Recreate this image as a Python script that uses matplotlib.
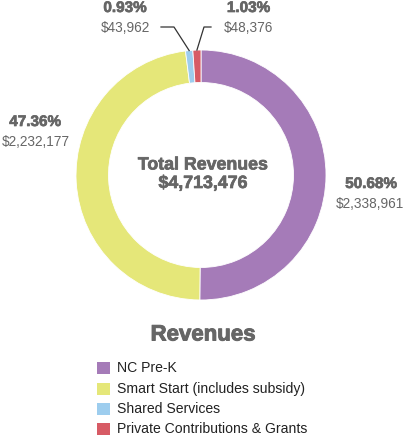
import numpy as np
import matplotlib
matplotlib.use("Agg")
import matplotlib.pyplot as plt
import matplotlib.patheffects as pe

categories = ["NC Pre-K", "Smart Start (includes subsidy)", "Shared Services", "Private Contributions & Grants"]
values = [2338961, 2232177, 43962, 48376]
pct_labels = ["50.68%", "47.36%", "0.93%", "1.03%"]
value_labels = ["$2,338,961", "$2,232,177", "$43,962", "$48,376"]
colors = ["#A57BB8", "#E5E779", "#9DCDEE", "#D75B65"]
center_title = "Total Revenues"
center_value = "$4,713,476"
chart_title = "Revenues"

plt.rcParams['font.family'] = ['Liberation Sans', 'DejaVu Sans']
W, H = 406, 438
fig = plt.figure(figsize=(W / 100, H / 100), dpi=100)
fig.patch.set_facecolor("white")

def fx(x):
    return x / W

def fy(y):
    return 1 - y / H

grey = "#666666"
heavy = [pe.withStroke(linewidth=0.5, foreground=grey)]

cx, cy, R = 201, 175, 125
ax = fig.add_axes([fx(cx - R), fy(cy + R), 2 * R / W, 2 * R / H])
wedges, _ = ax.pie(values, colors=colors, startangle=90, counterclock=False,
                   radius=1, wedgeprops=dict(width=0.26, edgecolor="white", linewidth=0.6))
ax.set_xlim(-1, 1)
ax.set_ylim(-1, 1)
ax.axis("off")

fig.text(fx(203), fy(165), center_title, ha="center", va="center", fontsize=12.8,
         fontweight="bold", color=grey, path_effects=heavy)
fig.text(fx(203), fy(183.5), center_value, ha="center", va="center", fontsize=12.8,
         fontweight="bold", color=grey, path_effects=heavy)

# label positions (pixels)
pct_pos = [(371, 184), (35, 122), (125, 8), (248.5, 8)]
val_pos = [(370, 204), (36, 142), (125, 27.5), (248, 27.5)]
for i in range(4):
    fig.text(fx(pct_pos[i][0]), fy(pct_pos[i][1]), pct_labels[i], ha="center", va="center",
             fontsize=11, fontweight="bold", color=grey, path_effects=heavy)
    fig.text(fx(val_pos[i][0]), fy(val_pos[i][1]), value_labels[i], ha="center", va="center",
             fontsize=9.8, color=grey)

# leader lines for small slices
total = sum(values)
cum = np.cumsum([0] + values)
for i, (elbow, end) in zip([2, 3], [((174, 27), (161, 27)), ((204, 27), (211, 27))]):
    mid = 90 - 360 * (cum[i] + values[i] / 2) / total
    px = cx + R * np.cos(np.radians(mid))
    py = cy - R * np.sin(np.radians(mid))
    fig.add_artist(plt.Line2D([fx(px), fx(elbow[0]), fx(end[0])],
                              [fy(py), fy(elbow[1]), fy(end[1])],
                              color="#333333", linewidth=0.9))

fig.text(fx(203), fy(335), chart_title, ha="center", va="center", fontsize=16,
         fontweight="bold", color=grey, path_effects=[pe.withStroke(linewidth=0.7, foreground=grey)])

leg_y = [368, 389, 409, 429]
for i in range(4):
    fig.patches.append(plt.Rectangle((fx(97), fy(leg_y[i] + 6)), 13 / W, 12 / H,
                                     transform=fig.transFigure, facecolor=colors[i],
                                     edgecolor="none", figure=fig))
    fig.text(fx(117), fy(leg_y[i]), categories[i], ha="left", va="center", fontsize=10.1,
             color="#222222")

fig.savefig("out.png", dpi=100, facecolor="white")
